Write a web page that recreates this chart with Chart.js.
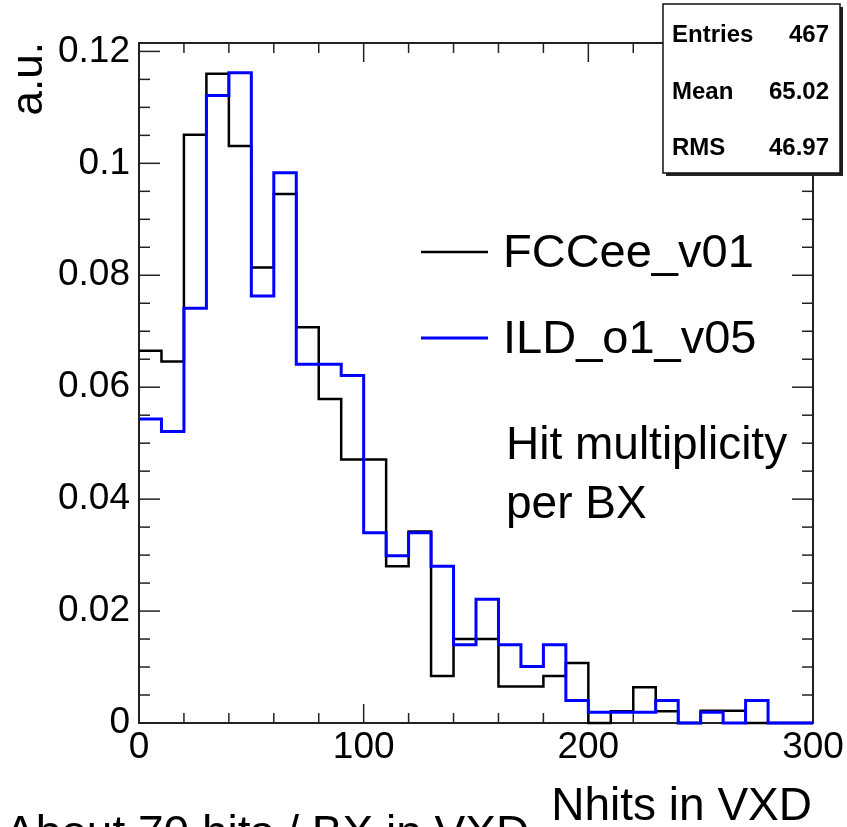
<!DOCTYPE html>
<html>
<head>
<meta charset="utf-8">
<script src="https://cdn.jsdelivr.net/npm/chart.js@4.4.0/dist/chart.umd.min.js"></script>
<style>
  body { margin: 0; background: #fff; }
  #wrap { width: 847px; height: 827px; }
</style>
</head>
<body>
<div id="wrap"><canvas id="histChart" width="847" height="827"></canvas></div>
<script>
// lower edges of the 10-hit bins
let binLow = [0, 10, 20, 30, 40, 50, 60, 70, 80, 90,
              100, 110, 120, 130, 140, 150, 160, 170, 180, 190,
              200, 210, 220, 230, 240, 250, 260, 270, 280, 290];
let binHigh = 300;

// normalised hit counts per bin
let fcceeV01 = [0.0665, 0.0646, 0.1051, 0.1160, 0.1031, 0.0814, 0.0945, 0.0707, 0.0579, 0.0471,
                0.0471, 0.0280, 0.0342, 0.0084, 0.0150, 0.0150, 0.0065, 0.0065, 0.0084, 0.0107,
                0.0000, 0.0021, 0.0064, 0.0021, 0.0000, 0.0022, 0.0022, 0.0000, 0.0000, 0.0000];
let ildO1V05 = [0.0543, 0.0521, 0.0741, 0.1121, 0.1162, 0.0763, 0.0983, 0.0641, 0.0641, 0.0621,
                0.0340, 0.0299, 0.0340, 0.0280, 0.0140, 0.0221, 0.0140, 0.0101, 0.0140, 0.0040,
                0.0019, 0.0019, 0.0019, 0.0040, 0.0000, 0.0019, 0.0000, 0.0040, 0.0000, 0.0000];

let xTicks = [0, 100, 200, 300];
let yTicks = [0, 0.02, 0.04, 0.06, 0.08, 0.1, 0.12];
let yTickLabels = ['0', '0.02', '0.04', '0.06', '0.08', '0.1', '0.12'];
let yMax = 0.1215;

let statNames = ['Entries', 'Mean', 'RMS'];
let statValues = ['467', '65.02', '46.97'];

const FONT = '"Liberation Sans", Arial, Helvetica, sans-serif';

// histogram as a step line: a point at each lower edge, the bin content is
// held up to the next edge ('before' in Chart.js terms), plus the closing edge
function toSteps(values) {
    let pts = [{x: binLow[0], y: values[0]}];
    for (let i = 1; i < binLow.length; i++) {
        pts.push({x: binLow[i], y: values[i]});
    }
    return pts;
}

function line(ctx, x1, y1, x2, y2) {
    ctx.beginPath();
    ctx.moveTo(x1, y1);
    ctx.lineTo(x2, y2);
    ctx.stroke();
}

// ROOT style frame with ticks on all four sides, pointing inward
const rootFrame = {
    id: 'rootFrame',
    beforeDatasetsDraw(chart) {
        const ctx = chart.ctx;
        const {left, right, top, bottom} = chart.chartArea;
        const xs = chart.scales.x, ys = chart.scales.y;
        ctx.save();
        ctx.strokeStyle = '#222';
        ctx.lineWidth = 2;
        ctx.strokeRect(left, top, right - left, bottom - top);
        ctx.lineWidth = 1.5;
        for (let k = 0; k <= 15; k++) {
            const px = xs.getPixelForValue(k * 20);
            const len = (k % 5 === 0) ? 19 : 10;
            line(ctx, px, bottom, px, bottom - len);
            line(ctx, px, top, px, top + len);
        }
        for (let k = 0; k <= 24; k++) {
            const py = ys.getPixelForValue(k * 0.005);
            const len = (k % 4 === 0) ? 21 : 11;
            line(ctx, left, py, left + len, py);
            line(ctx, right, py, right - len, py);
        }
        ctx.restore();
    },
    afterDraw(chart) {
        const ctx = chart.ctx;
        ctx.save();
        ctx.fillStyle = '#000';
        ctx.textBaseline = 'alphabetic';

        // legend
        const legendY = [252, 338];
        ctx.font = '47px ' + FONT;
        ctx.textAlign = 'left';
        chart.data.datasets.forEach((ds, i) => {
            ctx.strokeStyle = ds.borderColor;
            ctx.lineWidth = ds.borderWidth;
            line(ctx, 421, legendY[i], 488, legendY[i]);
            ctx.fillText(ds.label, 503, legendY[i] + 15);
        });

        ctx.font = '46px ' + FONT;
        ctx.fillText('Hit multiplicity', 506, 459);
        ctx.fillText('per BX', 506, 518);

        // axis titles
        ctx.textAlign = 'right';
        ctx.fillText('Nhits in VXD', 812, 820);
        ctx.save();
        ctx.font = '44px ' + FONT;
        ctx.translate(42, 42);
        ctx.rotate(-Math.PI / 2);
        ctx.fillText('a.u.', 0, 0);
        ctx.restore();

        ctx.textAlign = 'left';
        ctx.fillText('About 70 hits / BX in VXD', 5, 848);

        // stats box
        const bx = 663, by = 4, bw = 177, bh = 169;
        ctx.fillStyle = '#222';
        ctx.fillRect(bx + 3, by + 3, bw, bh);
        ctx.fillStyle = '#fff';
        ctx.fillRect(bx, by, bw, bh);
        ctx.strokeStyle = '#111';
        ctx.lineWidth = 1.5;
        ctx.strokeRect(bx, by, bw, bh);
        ctx.fillStyle = '#000';
        ctx.font = 'bold 24px ' + FONT;
        const rowY = [42, 99, 155];
        for (let i = 0; i < statNames.length; i++) {
            ctx.textAlign = 'left';
            ctx.fillText(statNames[i], 672, rowY[i]);
            ctx.textAlign = 'right';
            ctx.fillText(statValues[i], 829, rowY[i]);
        }
        ctx.restore();
    }
};

const tickFont = {family: FONT, size: 37, lineHeight: 1.2};

function histDataset(label, values, color, width, order) {
    let pts = toSteps(values);
    pts.push({x: binHigh, y: values[values.length - 1]});
    return {
        label: label,
        data: pts,
        borderColor: color,
        borderWidth: width,
        stepped: 'before',
        pointRadius: 0,
        fill: false,
        clip: false,
        order: order
    };
}

new Chart(document.getElementById('histChart').getContext('2d'), {
    type: 'line',
    data: {
        datasets: [
            histDataset('FCCee_v01', fcceeV01, '#000000', 2.5, 1),
            histDataset('ILD_o1_v05', ildO1V05, '#0000ff', 3, 0)
        ]
    },
    options: {
        responsive: false,
        animation: false,
        events: [],
        layout: {padding: {left: 0, top: 43, right: 34, bottom: 0}},
        plugins: {legend: {display: false}, tooltip: {enabled: false}},
        scales: {
            x: {
                type: 'linear',
                min: 0,
                max: binHigh,
                grid: {display: false, drawTicks: false},
                border: {display: false},
                afterBuildTicks: s => { s.ticks = xTicks.map(v => ({value: v})); },
                afterFit: s => { s.height = 104; },
                ticks: {
                    padding: 3,
                    color: '#000',
                    font: tickFont,
                    maxRotation: 0,
                    autoSkip: false,
                    callback: v => String(v)
                }
            },
            y: {
                type: 'linear',
                min: 0,
                max: yMax,
                grid: {display: false, drawTicks: false},
                border: {display: false},
                afterBuildTicks: s => { s.ticks = yTicks.map(v => ({value: v})); },
                afterFit: s => { s.width = 139; },
                ticks: {
                    padding: 9,
                    color: '#000',
                    font: tickFont,
                    autoSkip: false,
                    callback: (v, i) => yTickLabels[i]
                }
            }
        }
    },
    plugins: [rootFrame]
});
</script>
</body>
</html>
